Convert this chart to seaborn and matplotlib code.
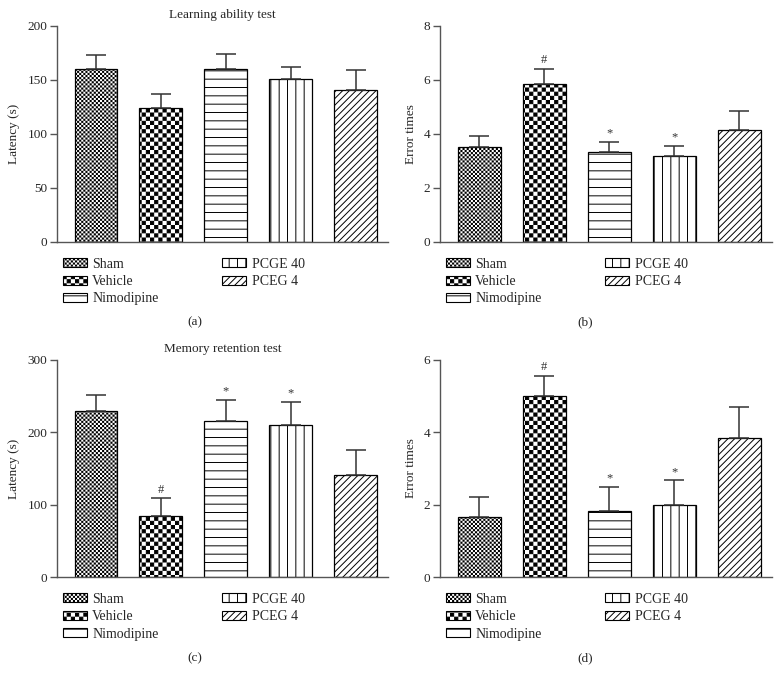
import matplotlib
matplotlib.use("Agg")
import matplotlib.pyplot as plt
import matplotlib.hatch as mhatch
from matplotlib.patches import Patch
from matplotlib.path import Path
import seaborn as sns
import numpy as np
import pandas as pd

groups = ["Sham", "Vehicle", "Nimodipine", "PCGE 40", "PCEG 4"]

learn_latency = [160, 124, 160, 151, 141]
learn_latency_err = [13, 13, 14, 11, 18]
learn_errors = [3.5, 5.84, 3.33, 3.17, 4.16]
learn_errors_err = [0.42, 0.57, 0.39, 0.39, 0.70]

memory_latency = [230, 84.5, 216, 210, 141]
memory_latency_err = [21.5, 24.5, 28.5, 32, 35]
memory_errors = [1.66, 5.0, 1.83, 2.0, 3.83]
memory_errors_err = [0.56, 0.57, 0.65, 0.67, 0.87]

marks_none = ["", "", "", "", ""]
marks_sig = ["", "#", "*", "*", ""]

HATCH_LW = 0.7  # pt
# 'o' is reused as a filled checkerboard hatch (count of 'o' sets the cell size)
hatches = ["oooooooo", "oooo", "--", "||", "/////"]


class CheckerHatch(mhatch.HatchPatternBase):
    def __init__(self, hatch, density):
        n = hatch.count("o") * density
        self.n = n + (n % 2)
        self.num_vertices = (self.n * self.n // 2) * 5

    def set_vertices_and_codes(self, vertices, codes):
        n = self.n
        d = HATCH_LW / 72 / 2
        s = 1.0 / n
        k = 0
        for i in range(n):
            for j in range(n):
                if (i + j) % 2:
                    continue
                x0, y0 = i * s + d, j * s + d
                x1, y1 = (i + 1) * s - d, (j + 1) * s - d
                vertices[k:k + 5] = [[x0, y0], [x1, y0], [x1, y1], [x0, y1], [x0, y0]]
                codes[k:k + 5] = [Path.MOVETO, Path.LINETO, Path.LINETO,
                                  Path.LINETO, Path.CLOSEPOLY]
                k += 5


mhatch._hatch_types = [mhatch.HorizontalHatch, mhatch.VerticalHatch,
                       mhatch.NorthEastHatch, mhatch.SouthEastHatch, CheckerHatch]

sns.set_theme(style="ticks")
plt.rcParams["font.family"] = ["Liberation Serif", "DejaVu Serif"]
plt.rcParams["hatch.linewidth"] = HATCH_LW
plt.rcParams["hatch.color"] = "black"

AX_COLOR = "#555555"


def draw_panel(ax, values, errs, marks, ylabel, ymax, yticks, title=None):
    df = pd.DataFrame({"group": groups, "value": values})
    sns.barplot(data=df, x="group", y="value", order=groups, color="white",
                edgecolor="black", linewidth=0.9, width=0.66, errorbar=None,
                saturation=1, ax=ax)
    for patch, h in zip(ax.patches, hatches):
        patch.set_facecolor("white")
        patch.set_hatch(h)
    x = np.arange(len(groups))
    ax.errorbar(x, values, yerr=[np.zeros(len(errs)), errs], fmt="none",
                ecolor="#333333", elinewidth=1.1, capsize=7.5, capthick=1.1,
                zorder=3)
    for xi, v, e, m in zip(x, values, errs, marks):
        if m:
            ax.text(xi, v + e + ymax * 0.012, m, ha="center", va="bottom",
                    fontsize=9, color="#333333")
    ax.set_xlim(-0.6, 4.5)
    ax.set_ylim(0, ymax)
    ax.set_yticks(yticks)
    ax.set_xticks([])
    ax.set_xlabel("")
    ax.set_ylabel(ylabel, fontsize=9.5, labelpad=5)
    ax.tick_params(axis="y", labelsize=9.5, length=5, width=1, color=AX_COLOR,
                   pad=2)
    for side in ["top", "right"]:
        ax.spines[side].set_visible(False)
    for side in ["left", "bottom"]:
        ax.spines[side].set_color(AX_COLOR)
        ax.spines[side].set_linewidth(1)
    if title:
        ax.set_title(title, fontsize=9.5, pad=6)
    handles = [Patch(facecolor="white", edgecolor="black", hatch=h,
                     linewidth=0.8, label=g) for g, h in zip(groups, hatches)]
    ax.legend(handles=handles, ncol=2, loc="upper left",
              bbox_to_anchor=(0.018, -0.072), frameon=False, fontsize=10,
              handlelength=1.7, handleheight=0.6, handletextpad=0.4,
              columnspacing=4.6, labelspacing=0.32, borderpad=0,
              borderaxespad=0)


fig = plt.figure(figsize=(7.8, 6.84), dpi=100)
ax_a = fig.add_axes([0.0731, 0.6462, 0.4244, 0.3158])
ax_b = fig.add_axes([0.5641, 0.6462, 0.4256, 0.3158])
ax_c = fig.add_axes([0.0731, 0.1564, 0.4244, 0.3173])
ax_d = fig.add_axes([0.5641, 0.1564, 0.4256, 0.3173])

draw_panel(ax_a, learn_latency, learn_latency_err, marks_none, "Latency (s)",
           200, [0, 50, 100, 150, 200], "Learning ability test")
draw_panel(ax_b, learn_errors, learn_errors_err, marks_sig, "Error times",
           8, [0, 2, 4, 6, 8])
draw_panel(ax_c, memory_latency, memory_latency_err, marks_sig, "Latency (s)",
           300, [0, 100, 200, 300], "Memory retention test")
draw_panel(ax_d, memory_errors, memory_errors_err, marks_sig, "Error times",
           6, [0, 2, 4, 6])

for label, xf, yf in [("(a)", 0.25, 0.529), ("(b)", 0.75, 0.529),
                      ("(c)", 0.25, 0.038), ("(d)", 0.75, 0.038)]:
    fig.text(xf, yf, label, ha="center", va="center", fontsize=9.5)

fig.savefig("out.png", dpi=100)
plt.close(fig)
